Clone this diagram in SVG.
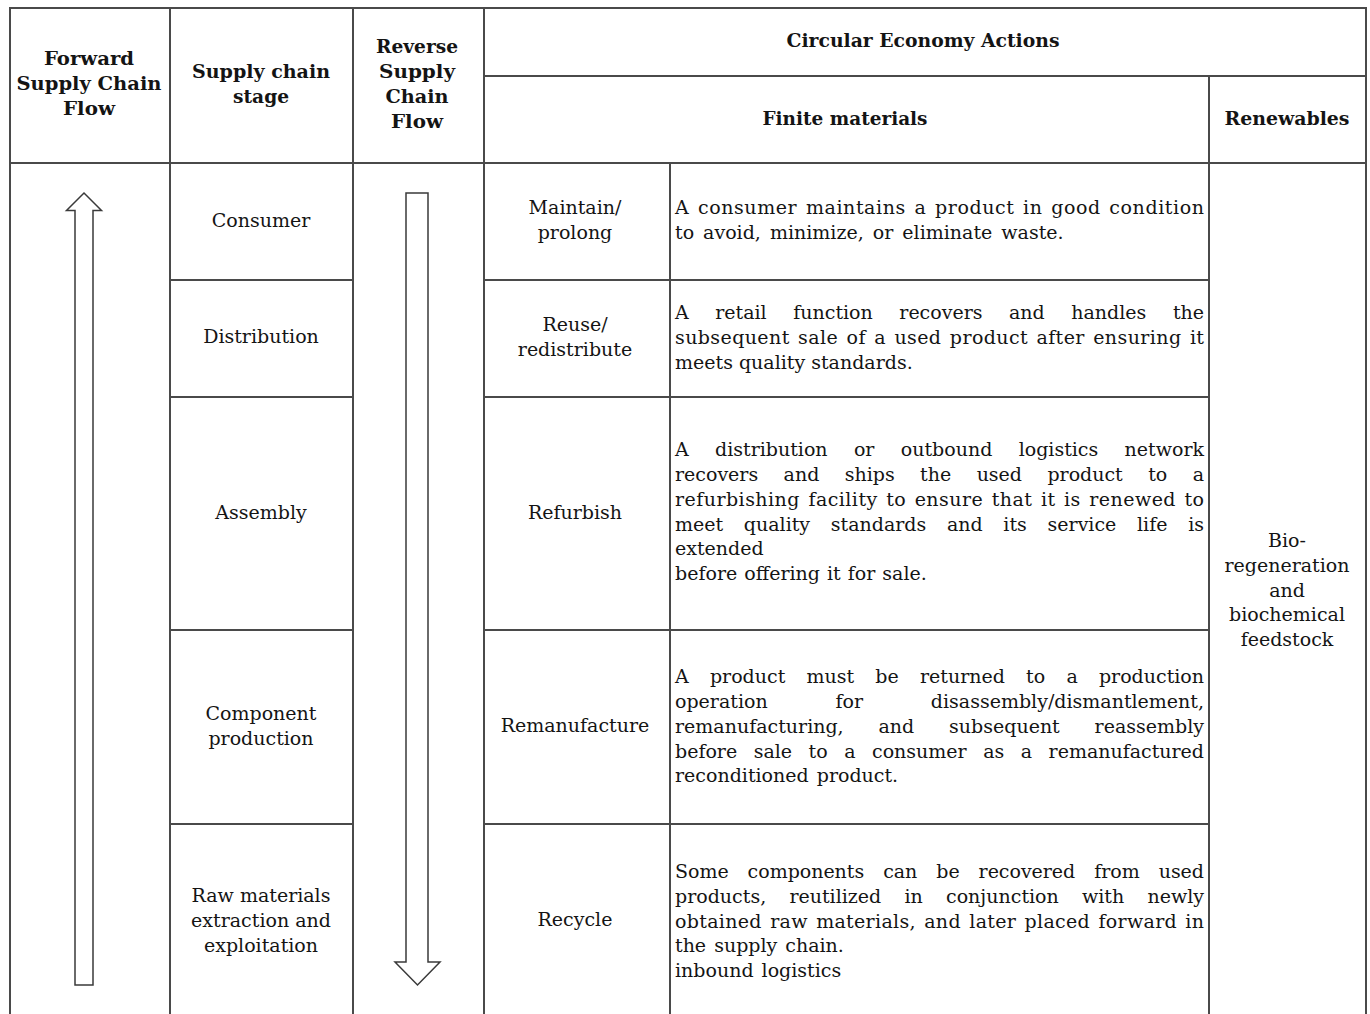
<svg xmlns="http://www.w3.org/2000/svg" width="1370" height="1014" viewBox="0 0 1370 1014">
<style>
.t { font-family: "DejaVu Serif", "Liberation Serif", serif; font-size: 19px; fill: #141414; }
.c { text-anchor: middle; }
.h { font-weight: bold; font-size: 18px; }
.grid { stroke: #4a4a4a; stroke-width: 2; fill: none; }
.arrow { fill: #ffffff; stroke: #3a3a3a; stroke-width: 1.5; stroke-linejoin: miter; }
</style>
<rect x="0" y="0" width="1370" height="1014" fill="#ffffff"/>
<g id="grid">
  <line class="grid" x1="9" y1="8" x2="1367" y2="8"/>
  <line class="grid" x1="484" y1="76" x2="1367" y2="76"/>
  <line class="grid" x1="9" y1="163" x2="1367" y2="163"/>
  <line class="grid" x1="10" y1="8" x2="10" y2="1014"/>
  <line class="grid" x1="170" y1="8" x2="170" y2="1014"/>
  <line class="grid" x1="353" y1="8" x2="353" y2="1014"/>
  <line class="grid" x1="484" y1="8" x2="484" y2="1014"/>
  <line class="grid" x1="670" y1="163" x2="670" y2="1014"/>
  <line class="grid" x1="1209" y1="76" x2="1209" y2="1014"/>
  <line class="grid" x1="1366" y1="8" x2="1366" y2="1014"/>
  <line class="grid" x1="170" y1="280" x2="353" y2="280"/>
  <line class="grid" x1="484" y1="280" x2="1209" y2="280"/>
  <line class="grid" x1="170" y1="397" x2="353" y2="397"/>
  <line class="grid" x1="484" y1="397" x2="1209" y2="397"/>
  <line class="grid" x1="170" y1="630" x2="353" y2="630"/>
  <line class="grid" x1="484" y1="630" x2="1209" y2="630"/>
  <line class="grid" x1="170" y1="824" x2="353" y2="824"/>
  <line class="grid" x1="484" y1="824" x2="1209" y2="824"/>
</g>
<g id="header-forward">
  <text class="t h c" x="89" y="65" textLength="90" lengthAdjust="spacingAndGlyphs">Forward</text>
  <text class="t h c" x="89" y="90" textLength="145" lengthAdjust="spacingAndGlyphs">Supply Chain</text>
  <text class="t h c" x="89" y="115" textLength="52" lengthAdjust="spacingAndGlyphs">Flow</text>
</g>
<g id="header-stage">
  <text class="t h c" x="261" y="78" textLength="138" lengthAdjust="spacingAndGlyphs">Supply chain</text>
  <text class="t h c" x="261" y="103" textLength="56" lengthAdjust="spacingAndGlyphs">stage</text>
</g>
<g id="header-reverse">
  <text class="t h c" x="417" y="53" textLength="82" lengthAdjust="spacingAndGlyphs">Reverse</text>
  <text class="t h c" x="417" y="78" textLength="76" lengthAdjust="spacingAndGlyphs">Supply</text>
  <text class="t h c" x="417" y="103" textLength="63" lengthAdjust="spacingAndGlyphs">Chain</text>
  <text class="t h c" x="417" y="128" textLength="52" lengthAdjust="spacingAndGlyphs">Flow</text>
</g>
<g id="header-ce">
  <text class="t h c" x="923" y="47" textLength="273" lengthAdjust="spacingAndGlyphs">Circular Economy Actions</text>
</g>
<g id="header-finite">
  <text class="t h c" x="845" y="125" textLength="165" lengthAdjust="spacingAndGlyphs">Finite materials</text>
</g>
<g id="header-renewables">
  <text class="t h c" x="1287" y="125" textLength="125" lengthAdjust="spacingAndGlyphs">Renewables</text>
</g>
<g id="stage-consumer"><text class="t c" x="261" y="227">Consumer</text></g>
<g id="stage-distribution"><text class="t c" x="261" y="343">Distribution</text></g>
<g id="stage-assembly"><text class="t c" x="261" y="519">Assembly</text></g>
<g id="stage-component">
  <text class="t c" x="261" y="720">Component</text>
  <text class="t c" x="261" y="745">production</text>
</g>
<g id="stage-raw">
  <text class="t c" x="261" y="902">Raw materials</text>
  <text class="t c" x="261" y="927">extraction and</text>
  <text class="t c" x="261" y="952">exploitation</text>
</g>
<g id="action-maintain">
  <text class="t c" x="575" y="214">Maintain/</text>
  <text class="t c" x="575" y="239">prolong</text>
</g>
<g id="action-reuse">
  <text class="t c" x="575" y="331">Reuse/</text>
  <text class="t c" x="575" y="356">redistribute</text>
</g>
<g id="action-refurbish"><text class="t c" x="575" y="519">Refurbish</text></g>
<g id="action-remanufacture"><text class="t c" x="575" y="732">Remanufacture</text></g>
<g id="action-recycle"><text class="t c" x="575" y="926">Recycle</text></g>
<g id="desc-maintain">
  <text class="t" x="675" y="214" textLength="529" lengthAdjust="spacing" style="word-spacing:2px">A consumer maintains a product in good condition</text>
  <text class="t" x="675" y="239" style="word-spacing:3px">to avoid, minimize, or eliminate waste.</text>
</g>
<g id="desc-reuse">
  <text class="t" x="675" y="319" textLength="529" lengthAdjust="spacing" style="word-spacing:20.5px">A retail function recovers and handles the</text>
  <text class="t" x="675" y="344" textLength="529" lengthAdjust="spacing" style="word-spacing:2px">subsequent sale of a used product after ensuring it</text>
  <text class="t" x="675" y="369">meets quality standards.</text>
</g>
<g id="desc-refurbish">
  <text class="t" x="675" y="456" textLength="529" lengthAdjust="spacing" style="word-spacing:20.3px">A distribution or outbound logistics network</text>
  <text class="t" x="675" y="481" textLength="529" lengthAdjust="spacing" style="word-spacing:19.4px">recovers and ships the used product to a</text>
  <text class="t" x="675" y="506" textLength="529" lengthAdjust="spacing" style="word-spacing:2px">refurbishing facility to ensure that it is renewed to</text>
  <text class="t" x="675" y="531" textLength="529" lengthAdjust="spacing" style="word-spacing:14.7px">meet quality standards and its service life is</text>
  <text class="t" x="675" y="555">extended</text>
  <text class="t" x="675" y="580" style="word-spacing:1px">before offering it for sale.</text>
</g>
<g id="desc-remanufacture">
  <text class="t" x="675" y="683" textLength="529" lengthAdjust="spacing" style="word-spacing:15.2px">A product must be returned to a production</text>
  <text class="t" x="675" y="708" textLength="529" lengthAdjust="spacing" style="word-spacing:61.8px">operation for disassembly/dismantlement,</text>
  <text class="t" x="675" y="733" textLength="529" lengthAdjust="spacing" style="word-spacing:28.8px">remanufacturing, and subsequent reassembly</text>
  <text class="t" x="675" y="758" textLength="529" lengthAdjust="spacing" style="word-spacing:10.5px">before sale to a consumer as a remanufactured</text>
  <text class="t" x="675" y="782" style="word-spacing:2px">reconditioned product.</text>
</g>
<g id="desc-recycle">
  <text class="t" x="675" y="878" textLength="529" lengthAdjust="spacing" style="word-spacing:13px">Some components can be recovered from used</text>
  <text class="t" x="675" y="903" textLength="529" lengthAdjust="spacing" style="word-spacing:17.2px">products, reutilized in conjunction with newly</text>
  <text class="t" x="675" y="928" textLength="529" lengthAdjust="spacing" style="word-spacing:2px">obtained raw materials, and later placed forward in</text>
  <text class="t" x="675" y="952" style="word-spacing:2px">the supply chain.</text>
  <text class="t" x="675" y="977" style="word-spacing:2px">inbound logistics</text>
</g>
<g id="renewables">
  <text class="t c" x="1287" y="547">Bio-</text>
  <text class="t c" x="1287" y="572">regeneration</text>
  <text class="t c" x="1287" y="597">and</text>
  <text class="t c" x="1287" y="621">biochemical</text>
  <text class="t c" x="1287" y="646">feedstock</text>
</g>
<g id="connectors">
  <polygon id="forward-arrow" class="arrow" points="75,985 75,210.5 66.5,210.5 84,193 101.5,210.5 93,210.5 93,985"/>
  <polygon id="reverse-arrow" class="arrow" points="406,193 428,193 428,962 440,962 417.5,985 395,962 406,962"/>
</g>
</svg>
